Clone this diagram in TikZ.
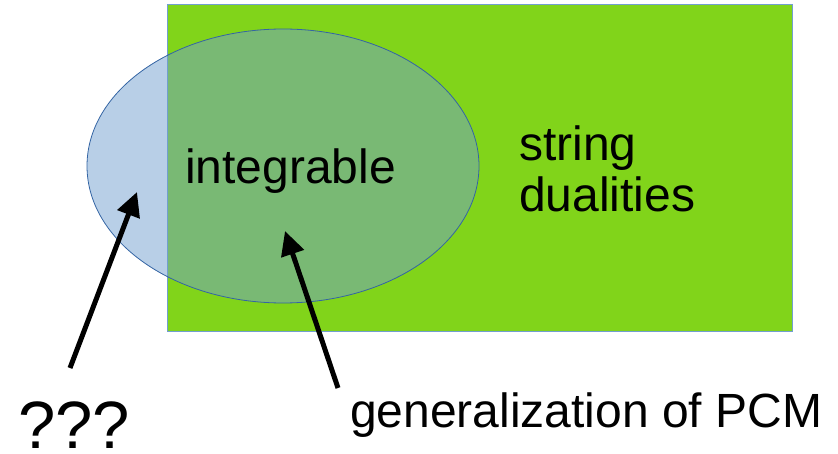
\documentclass[tikz,border=0pt]{standalone}
\usepackage{fontspec}
\setmainfont{Liberation Sans}
\usetikzlibrary{arrows.meta,shapes.geometric}
\definecolor{rectgreen}{HTML}{81D41A}
\definecolor{rectborder}{HTML}{729FCF}
\definecolor{ellfill}{HTML}{729FCF}
\definecolor{ellborder}{HTML}{3465A4}
\tikzset{
  lbl/.style={font=\fontsize{48}{55}\selectfont, inner sep=0pt, anchor=base west},
  pointer/.style={line width=5pt, -{Triangle[length=24pt,width=23pt]}},
}
\begin{document}
\begin{tikzpicture}[x=1pt,y=-1pt]
\useasboundingbox (0,0) rectangle (838,454);
\node[draw=rectborder, fill=rectgreen, line width=1.2pt, minimum width=625pt, minimum height=327pt, inner sep=0pt, anchor=north west] (rect) at (167,4) {};
\node[draw=ellborder, fill=ellfill, fill opacity=0.5, line width=0.8pt, ellipse, minimum width=392pt, minimum height=274pt, inner sep=0pt] (ell) at (283,166) {};
\node[lbl] (integ) at (185,184) {integrable};
\node[lbl] (str) at (519,161) {string};
\node[lbl] (dual) at (519,212) {dualities};
\node[lbl, font=\fontsize{67}{74}\selectfont] (q) at (18,448) {???};
\node[lbl] (gen) at (350,427) {generalization of PCM};
\coordinate (t1) at (70,368);
\coordinate (h1) at (137,192);
\coordinate (t2) at (338,388);
\coordinate (h2) at (285,231);
\draw[pointer] (t1) -- (h1);
\draw[pointer] (t2) -- (h2);
\end{tikzpicture}
\end{document}
